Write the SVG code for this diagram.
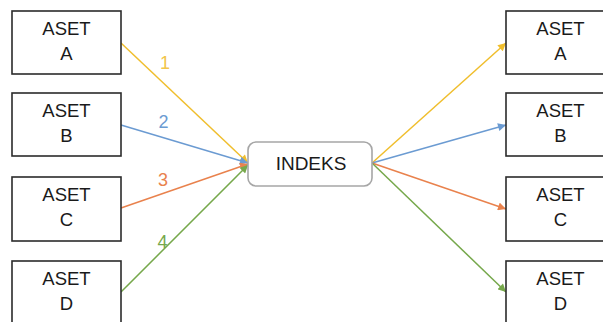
<svg xmlns="http://www.w3.org/2000/svg" width="603" height="322" viewBox="0 0 603 322">
  <style>
    .box { fill: #ffffff; stroke: #2b2b2b; stroke-width: 1.6; }
    .hub { fill: #ffffff; stroke: #a6a6a6; stroke-width: 1.6; }
    .lbl { font-family: "Liberation Sans", Arial, sans-serif; font-size: 18.5px; fill: #1a1a1a; text-anchor: middle; }
    .num { font-family: "Liberation Sans", Arial, sans-serif; font-size: 18px; text-anchor: middle; }
    .edge { fill: none; stroke-width: 1.5; }
  </style>
  <defs>
    <marker id="ah-y" viewBox="0 0 10 10" refX="10" refY="5" markerWidth="9" markerHeight="8" orient="auto" markerUnits="userSpaceOnUse">
      <path d="M0,0 L10,5 L0,10 Z" fill="#F0BE2C"/>
    </marker>
    <marker id="ah-b" viewBox="0 0 10 10" refX="10" refY="5" markerWidth="9" markerHeight="8" orient="auto" markerUnits="userSpaceOnUse">
      <path d="M0,0 L10,5 L0,10 Z" fill="#6B9BD2"/>
    </marker>
    <marker id="ah-o" viewBox="0 0 10 10" refX="10" refY="5" markerWidth="9" markerHeight="8" orient="auto" markerUnits="userSpaceOnUse">
      <path d="M0,0 L10,5 L0,10 Z" fill="#E9824D"/>
    </marker>
    <marker id="ah-g" viewBox="0 0 10 10" refX="10" refY="5" markerWidth="9" markerHeight="8" orient="auto" markerUnits="userSpaceOnUse">
      <path d="M0,0 L10,5 L0,10 Z" fill="#76A84B"/>
    </marker>
  </defs>

  <!-- connectors -->
  <g id="connectors">
    <path class="edge" stroke="#F0BE2C" d="M121,43 L248,163" marker-end="url(#ah-y)"/>
    <path class="edge" stroke="#6B9BD2" d="M121,125 L248,163" marker-end="url(#ah-b)"/>
    <path class="edge" stroke="#E9824D" d="M121,208 L248,164" marker-end="url(#ah-o)"/>
    <path class="edge" stroke="#76A84B" d="M121,292 L248,165" marker-end="url(#ah-g)"/>

    <path class="edge" stroke="#F0BE2C" d="M372,163 L506,43" marker-end="url(#ah-y)"/>
    <path class="edge" stroke="#6B9BD2" d="M372,163 L506,125" marker-end="url(#ah-b)"/>
    <path class="edge" stroke="#E9824D" d="M372,163 L506,209" marker-end="url(#ah-o)"/>
    <path class="edge" stroke="#76A84B" d="M372,163 L506,292" marker-end="url(#ah-g)"/>

    <text class="num" x="165" y="69" fill="#F2C54A">1</text>
    <text class="num" x="163.5" y="128" fill="#6B9BD2">2</text>
    <text class="num" x="163" y="186" fill="#E9824D">3</text>
    <text class="num" x="162.5" y="248" fill="#76A84B">4</text>
  </g>

  <!-- source assets -->
  <g id="src-a">
    <rect class="box" x="12" y="11" width="109" height="63"/>
    <text class="lbl" x="66.5" y="35">ASET</text>
    <text class="lbl" x="66.5" y="60">A</text>
  </g>
  <g id="src-b">
    <rect class="box" x="12" y="93" width="109" height="63"/>
    <text class="lbl" x="66.5" y="117">ASET</text>
    <text class="lbl" x="66.5" y="142">B</text>
  </g>
  <g id="src-c">
    <rect class="box" x="12" y="177" width="109" height="64"/>
    <text class="lbl" x="66.5" y="201">ASET</text>
    <text class="lbl" x="66.5" y="226">C</text>
  </g>
  <g id="src-d">
    <rect class="box" x="12" y="261" width="109" height="70"/>
    <text class="lbl" x="66.5" y="285">ASET</text>
    <text class="lbl" x="66.5" y="310">D</text>
  </g>

  <!-- index -->
  <g id="indeks">
    <rect class="hub" x="248" y="142" width="124" height="44" rx="8" ry="8"/>
    <text class="lbl" x="311" y="169.5" style="font-size:19px">INDEKS</text>
  </g>

  <!-- target assets -->
  <g id="dst-a">
    <rect class="box" x="506" y="11" width="109" height="63"/>
    <text class="lbl" x="560.5" y="35">ASET</text>
    <text class="lbl" x="560.5" y="60">A</text>
  </g>
  <g id="dst-b">
    <rect class="box" x="506" y="93" width="109" height="63"/>
    <text class="lbl" x="560.5" y="117">ASET</text>
    <text class="lbl" x="560.5" y="142">B</text>
  </g>
  <g id="dst-c">
    <rect class="box" x="506" y="177" width="109" height="64"/>
    <text class="lbl" x="560.5" y="201">ASET</text>
    <text class="lbl" x="560.5" y="226">C</text>
  </g>
  <g id="dst-d">
    <rect class="box" x="506" y="261" width="109" height="70"/>
    <text class="lbl" x="560.5" y="285">ASET</text>
    <text class="lbl" x="560.5" y="310">D</text>
  </g>
</svg>
